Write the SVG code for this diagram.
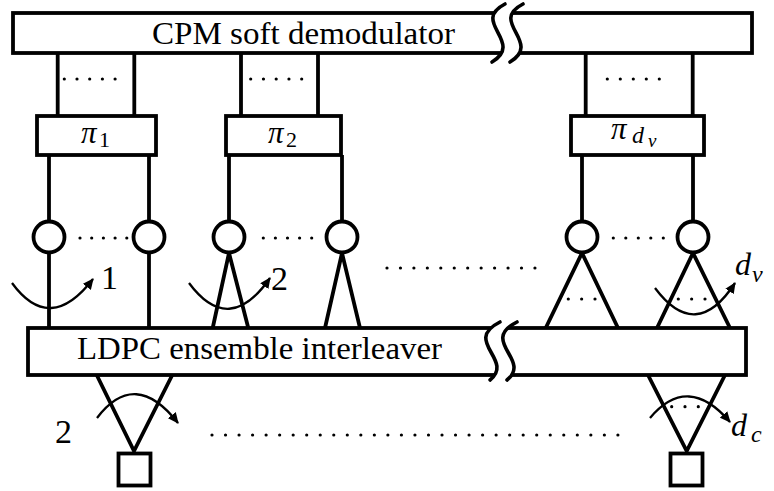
<svg xmlns="http://www.w3.org/2000/svg" width="774" height="491" viewBox="0 0 774 491">
<style>
.box{fill:#fff;stroke:#000;stroke-width:3.8}
.ln{fill:none;stroke:#000;stroke-width:3.8}
.cut{fill:none;stroke:#000;stroke-width:3.6;stroke-linecap:round}
.gap{fill:#fff;stroke:none}
.arc{fill:none;stroke:#000;stroke-width:2.3}
.dots{fill:none;stroke:#000;stroke-width:3.2;stroke-linecap:round}
text{font-family:'Liberation Serif','Times New Roman','DejaVu Serif',serif;fill:#000}
.mi{font-style:italic}
</style>
<defs>
<marker id="ah" markerUnits="userSpaceOnUse" markerWidth="12" markerHeight="10" refX="10" refY="5" orient="auto">
<path d="M0,0 L11,5 L0,10 Z" fill="#000"/>
</marker>
</defs>
<rect width="774" height="491" fill="#fff"/>

<g id="connectors">
<path class="ln" d="M57.7,53 V116 M134.3,53 V116 M241,53 V116 M318,53 V116 M585.7,53 V116 M692.7,53 V116"/>
<path class="dots" stroke-dasharray="0 12.7" d="M64.3,79 H115.4"/>
<path class="dots" stroke-dasharray="0 12.75" d="M250.7,79 H302"/>
<path class="dots" stroke-dasharray="0 13" d="M607.3,79 H659.6"/>
<path class="ln" d="M49,155 V221 M149,155 V221 M229,155 V221 M342,155 V221 M582,155 V221 M693,155 V221"/>
<path class="ln" d="M49,253 V328 M149,253 V328"/>
<path class="ln" d="M212.7,328 L229,253 L248.3,328 M325,328 L342,253 L360,328"/>
<path class="ln" d="M545.7,328 L582,253 L618,328 M657,328 L693,253 L730,328"/>
<path class="dots" stroke-dasharray="0 13.35" d="M568.3,299 H595.3"/>
<path class="dots" stroke-dasharray="0 13.35" d="M678.3,299 H705.3"/>
<path class="ln" d="M96.7,375 L134,451 L172.3,375"/>
<path class="ln" d="M648,375 L686.7,451 L725,375"/>
<path class="dots" stroke-dasharray="0 13.3" d="M671.7,406.7 H698.6"/>
<path class="dots" stroke-dasharray="0 13.45" d="M387,268 H535.3"/>
<path class="dots" stroke-dasharray="0 13.53" d="M212,435 H618.3"/>
<path class="arc" marker-end="url(#ah)" d="M12,283 Q50,335 93,279"/>
<path class="arc" marker-end="url(#ah)" d="M189,283 Q229,337 270,278"/>
<path class="arc" marker-end="url(#ah)" d="M655,288 Q696,343 735,283"/>
<path class="arc" marker-end="url(#ah)" d="M97,418 Q135,368 178,423"/>
<path class="arc" marker-end="url(#ah)" d="M650,418 Q688,373 730,422"/>
</g>

<g id="cpm-demodulator">
<rect class="box" x="13" y="13" width="739" height="40"/>
<path class="gap" d="M505,4 C470,22 525,42 492,62 L510,62 C543,42 488,22 523,4 Z"/>
<path class="cut" d="M505,4 C470,22 525,42 492,62"/>
<path class="cut" d="M523,4 C488,22 543,42 510,62"/>
<text x="152" y="44" font-size="32" textLength="303" lengthAdjust="spacingAndGlyphs">CPM soft demodulator</text>
</g>

<g id="interleaver-pi1">
<rect class="box" x="37" y="116" width="119" height="39"/>
<text class="mi" x="81" y="143" font-size="31">π<tspan font-style="normal" x="99" y="147" font-size="22">1</tspan></text>
</g>
<g id="interleaver-pi2">
<rect class="box" x="226" y="116" width="115" height="39"/>
<text class="mi" x="268" y="143" font-size="31">π<tspan font-style="normal" x="286" y="147" font-size="22">2</tspan></text>
</g>
<g id="interleaver-pidv">
<rect class="box" x="571" y="116" width="133" height="39"/>
<text class="mi" x="611" y="139" font-size="31">π<tspan x="632" y="143" font-size="24">d</tspan><tspan x="648" y="147" font-size="19">v</tspan></text>
</g>

<g id="variable-nodes">
<circle class="box" cx="49" cy="237" r="15.5"/>
<circle class="box" cx="149" cy="237" r="15.5"/>
<circle class="box" cx="229" cy="237" r="15.5"/>
<circle class="box" cx="342" cy="237" r="15.5"/>
<circle class="box" cx="582" cy="237" r="15.5"/>
<circle class="box" cx="693" cy="237" r="15.5"/>
<path class="dots" stroke-dasharray="0 11.7" d="M80,238 H127"/>
<path class="dots" stroke-dasharray="0 12.1" d="M263.3,238 H312"/>
<path class="dots" stroke-dasharray="0 12.5" d="M613.3,238 H663.6"/>
</g>

<g id="ldpc-interleaver">
<rect class="box" x="28" y="328" width="718" height="47"/>
<path class="gap" d="M500,322 C462,341 515,360 490,380 L507,380 C532,360 479,341 517,322 Z"/>
<path class="cut" d="M500,322 C462,341 515,360 490,380"/>
<path class="cut" d="M517,322 C479,341 532,360 507,380"/>
<text x="77" y="359" font-size="32" textLength="365" lengthAdjust="spacingAndGlyphs">LDPC ensemble interleaver</text>
</g>

<g id="check-nodes">
<rect class="box" x="118.5" y="453.5" width="32" height="32"/>
<rect class="box" x="670.5" y="453.5" width="32" height="32"/>
</g>

<g id="labels">
<text x="101" y="289" font-size="34">1</text>
<text x="271" y="290" font-size="34">2</text>
<text x="55" y="443" font-size="34">2</text>
<text class="mi" x="735" y="275" font-size="32">d<tspan x="752" y="282" font-size="24">v</tspan></text>
<text class="mi" x="731" y="436" font-size="32">d<tspan x="751" y="442" font-size="24">c</tspan></text>
</g>
</svg>
